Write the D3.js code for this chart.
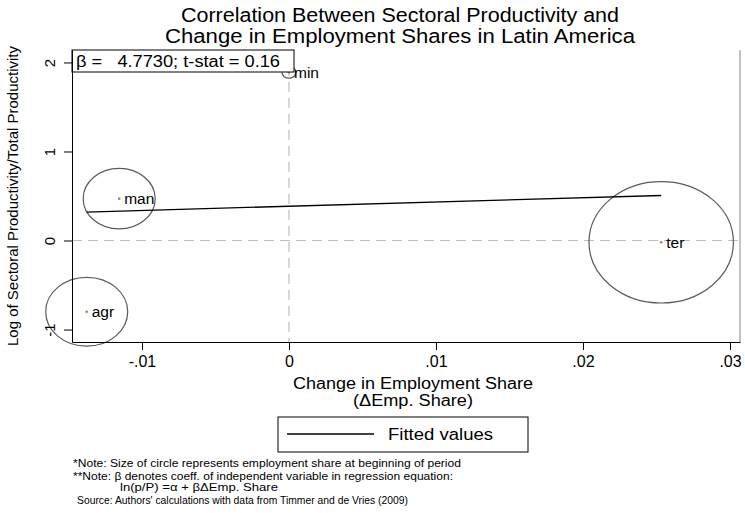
<!DOCTYPE html>
<html>
<head>
<meta charset="utf-8">
<script src="https://cdn.jsdelivr.net/npm/d3@7"></script>
<style>
  html, body { margin: 0; padding: 0; background: #fff; }
  svg { display: block; font-family: "Liberation Sans", Arial, sans-serif; }
</style>
</head>
<body>
<svg id="chart" width="745" height="513"></svg>
<script>
// ---- data ----
const sectors = ["agr", "man", "min", "ter"];
const empShareChange = [-0.01376, -0.01155, 0.0000, 0.02532];
const logRelProductivity = [-0.80, 0.47, 1.89, -0.02];
const empShareStart = [0.205, 0.158, 0.006, 0.636];
const xTicks = [-0.01, 0, 0.01, 0.02, 0.03];
const xTickLabels = ["-.01", "0", ".01", ".02", ".03"];
const yTicks = [-1, 0, 1, 2];
const yTickLabels = ["-1", "0", "1", "2"];
const fitAlpha = 0.385;
const fitBeta = 4.7730;
const tStat = 0.16;

const titleLines = ["Correlation Between Sectoral Productivity and",
                    "Change in Employment Shares in Latin America"];
const notes = [
  "*Note: Size of circle represents employment share at beginning of period",
  "**Note: \u03B2 denotes coeff. of independent variable in regression equation:",
  "ln(p/P) =\u03B1 + \u03B2\u0394Emp. Share",
  "Source: Authors' calculations with data from Timmer and de Vries (2009)"
];

// ---- layout ----
const svg = d3.select("#chart");
const L = 72, R = 740, T = 50, B = 342;

const x = d3.scaleLinear().domain([-0.01476, 0.03068]).range([L, R]);
const y = d3.scaleLinear().domain([-1.14, 2.14]).range([B, T]);
const rScale = d3.scaleSqrt().domain([0, 1]).range([0, 76.1]);
const aspect = 1.19;

// title
const titleW = [438, 470];
svg.append("g").selectAll("text").data(titleLines).join("text")
  .attr("x", 400).attr("y", (d, i) => 22 + i * 21)
  .attr("text-anchor", "middle").attr("font-size", 19.5).attr("fill", "#000")
  .attr("textLength", (d, i) => titleW[i]).attr("lengthAdjust", "spacingAndGlyphs")
  .text(d => d);

// reference dashed lines
svg.append("line").attr("x1", x(0)).attr("x2", x(0)).attr("y1", T).attr("y2", B)
  .attr("stroke", "#bdbdbd").attr("stroke-width", 1.2).attr("stroke-dasharray", "10,6");
svg.append("line").attr("x1", L).attr("x2", R).attr("y1", y(0)).attr("y2", y(0))
  .attr("stroke", "#bdbdbd").attr("stroke-width", 1.2).attr("stroke-dasharray", "10,6");

// right border
svg.append("line").attr("x1", R).attr("x2", R).attr("y1", T).attr("y2", B)
  .attr("stroke", "#888").attr("stroke-width", 1);

const pts = sectors.map((s, i) => ({ s, x: empShareChange[i], y: logRelProductivity[i], w: empShareStart[i] }));

// circles
svg.append("g").selectAll("ellipse").data(pts).join("ellipse")
  .attr("cx", d => x(d.x)).attr("cy", d => y(d.y))
  .attr("rx", d => rScale(d.w) * aspect).attr("ry", d => rScale(d.w))
  .attr("fill", "none").attr("stroke", "#5a5a5a").attr("stroke-width", 1.2);

// dots
svg.append("g").selectAll("circle").data(pts).join("circle")
  .attr("cx", d => x(d.x)).attr("cy", d => y(d.y)).attr("r", 1.3)
  .attr("fill", "#8a8a8a");

// labels
svg.append("g").selectAll("text").data(pts).join("text")
  .attr("x", d => x(d.x) + 5).attr("y", d => y(d.y) + 5.5)
  .attr("font-size", 15.5).attr("fill", "#000")
  .text(d => d.s);

// fitted line
const xExt = d3.extent(empShareChange);
svg.append("line")
  .attr("x1", x(xExt[0])).attr("y1", y(fitAlpha + fitBeta * xExt[0]))
  .attr("x2", x(xExt[1])).attr("y2", y(fitAlpha + fitBeta * xExt[1]))
  .attr("stroke", "#000").attr("stroke-width", 1.3);

// beta box
const bx = svg.append("g");
bx.append("rect").attr("x", L).attr("y", T).attr("width", 222).attr("height", 22)
  .attr("fill", "#fff").attr("stroke", "#000").attr("stroke-width", 1);
bx.append("text").attr("x", L + 4).attr("y", T + 17).attr("font-size", 16)
  .attr("xml:space", "preserve").style("white-space", "pre")
  .attr("textLength", 204).attr("lengthAdjust", "spacingAndGlyphs")
  .text("\u03B2 =   " + fitBeta.toFixed(4) + "; t-stat = " + tStat.toFixed(2));

// axes
const xAxis = d3.axisBottom(x).tickValues(xTicks).tickFormat((d, i) => xTickLabels[i]).tickSize(8).tickSizeOuter(0);
const gx = svg.append("g").attr("transform", `translate(0,${B})`).call(xAxis);
gx.select(".domain").attr("stroke", "#000");
gx.selectAll(".tick line").attr("stroke", "#000");
gx.selectAll(".tick text").attr("font-size", 16).attr("fill", "#000").attr("dy", "0.85em")
  .attr("font-family", "Liberation Sans, Arial, sans-serif");

const yAxis = d3.axisLeft(y).tickValues(yTicks).tickFormat((d, i) => yTickLabels[i]).tickSize(8).tickSizeOuter(0);
const gy = svg.append("g").attr("transform", `translate(${L},0)`).call(yAxis);
gy.select(".domain").attr("stroke", "#000");
gy.selectAll(".tick line").attr("stroke", "#000");
gy.selectAll(".tick text").attr("font-size", 15).attr("fill", "#000")
  .attr("font-family", "Liberation Sans, Arial, sans-serif")
  .attr("x", 0).attr("dy", 0).attr("text-anchor", "middle")
  .attr("transform", "translate(-17,0) rotate(-90)");

// axis titles
svg.append("text").attr("x", 413).attr("y", 389).attr("text-anchor", "middle")
  .attr("font-size", 16).attr("textLength", 240).attr("lengthAdjust", "spacingAndGlyphs")
  .text("Change in Employment Share");
svg.append("text").attr("x", 413).attr("y", 406).attr("text-anchor", "middle")
  .attr("font-size", 16).attr("textLength", 120).attr("lengthAdjust", "spacingAndGlyphs")
  .text("(\u0394Emp. Share)");
svg.append("text").attr("transform", `translate(18,196) rotate(-90)`)
  .attr("text-anchor", "middle").attr("font-size", 15)
  .attr("textLength", 300).attr("lengthAdjust", "spacingAndGlyphs")
  .text("Log of Sectoral Productivity/Total Productivity");

// legend
const lg = svg.append("g");
lg.append("rect").attr("x", 278).attr("y", 417).attr("width", 250).attr("height", 35)
  .attr("fill", "#fff").attr("stroke", "#000").attr("stroke-width", 1);
lg.append("line").attr("x1", 287).attr("x2", 374).attr("y1", 434).attr("y2", 434)
  .attr("stroke", "#000").attr("stroke-width", 1.3);
lg.append("text").attr("x", 388).attr("y", 440).attr("font-size", 16)
  .attr("textLength", 105).attr("lengthAdjust", "spacingAndGlyphs").text("Fitted values");

// notes
const noteX = [73, 73, 120, 77];
const noteY = [467, 480, 491, 504];
const noteW = [388, 380, 158, 331];
svg.append("g").selectAll("text").data(notes).join("text")
  .attr("x", (d, i) => noteX[i]).attr("y", (d, i) => noteY[i])
  .attr("font-size", 11).attr("fill", "#000")
  .attr("textLength", (d, i) => noteW[i]).attr("lengthAdjust", "spacingAndGlyphs")
  .text(d => d);
</script>
</body>
</html>
